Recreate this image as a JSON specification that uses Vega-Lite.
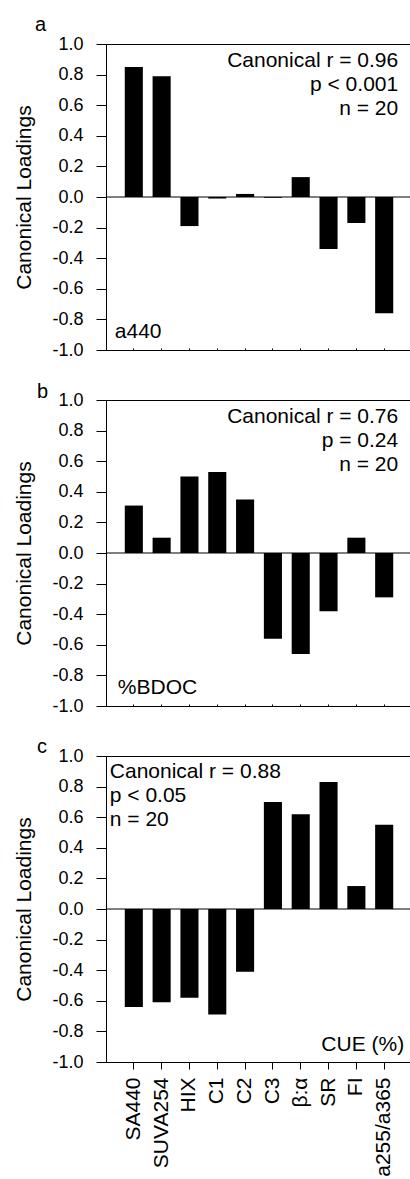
{
  "$schema": "https://vega.github.io/schema/vega-lite/v6.json",
  "autosize": {"type": "none"},
  "padding": {"left": 106, "top": 44, "right": 304, "bottom": 1135},
  "background": "white",
  "config": {
    "font": "Liberation Sans",
    "view": {"stroke": "#000", "strokeWidth": 1},
    "axis": {"domainColor": "#000", "tickColor": "#000", "labelColor": "#000", "titleColor": "#000", "labelFont": "Liberation Sans", "titleFont": "Liberation Sans", "grid": false, "labelOverlap": false},
    "axisQuantitative": {"labelOverlap": false, "tickCount": 11},
    "axisY": {"labelOverlap": false, "labelFontSize": 18, "titleFontSize": 21, "titleFontWeight": "normal", "tickSize": 10, "labelPadding": 13, "titlePadding": 17},
    "title": {"font": "Liberation Sans", "fontWeight": "normal", "fontSize": 20, "color": "#000", "anchor": "start", "frame": "group", "baseline": "alphabetic"}
  },
  "bounds": "flush",
  "spacing": 50,
  "datasets": {
    "loadings": [
      {"panel": "a", "variable": "SA440", "loading": 0.85},
      {"panel": "a", "variable": "SUVA254", "loading": 0.79},
      {"panel": "a", "variable": "HIX", "loading": -0.19},
      {"panel": "a", "variable": "C1", "loading": -0.01},
      {"panel": "a", "variable": "C2", "loading": 0.02},
      {"panel": "a", "variable": "C3", "loading": -0.005},
      {"panel": "a", "variable": "β:α", "loading": 0.13},
      {"panel": "a", "variable": "SR", "loading": -0.34},
      {"panel": "a", "variable": "FI", "loading": -0.17},
      {"panel": "a", "variable": "a255/a365", "loading": -0.76},
      {"panel": "b", "variable": "SA440", "loading": 0.31},
      {"panel": "b", "variable": "SUVA254", "loading": 0.10},
      {"panel": "b", "variable": "HIX", "loading": 0.50},
      {"panel": "b", "variable": "C1", "loading": 0.53},
      {"panel": "b", "variable": "C2", "loading": 0.35},
      {"panel": "b", "variable": "C3", "loading": -0.56},
      {"panel": "b", "variable": "β:α", "loading": -0.66},
      {"panel": "b", "variable": "SR", "loading": -0.38},
      {"panel": "b", "variable": "FI", "loading": 0.10},
      {"panel": "b", "variable": "a255/a365", "loading": -0.29},
      {"panel": "c", "variable": "SA440", "loading": -0.64},
      {"panel": "c", "variable": "SUVA254", "loading": -0.61},
      {"panel": "c", "variable": "HIX", "loading": -0.58},
      {"panel": "c", "variable": "C1", "loading": -0.69},
      {"panel": "c", "variable": "C2", "loading": -0.41},
      {"panel": "c", "variable": "C3", "loading": 0.70},
      {"panel": "c", "variable": "β:α", "loading": 0.62},
      {"panel": "c", "variable": "SR", "loading": 0.83},
      {"panel": "c", "variable": "FI", "loading": 0.15},
      {"panel": "c", "variable": "a255/a365", "loading": 0.55}
    ]
  },
  "vconcat": [
    {
      "width": 306, "height": 306,
      "title": {"text": "a", "dx": -71, "offset": 0},
      "layer": [
        {
          "data": {"name": "loadings"},
          "transform": [{"filter": "datum.panel === 'a'"}],
          "mark": {"type": "bar", "color": "#000"},
          "encoding": {
            "x": {"field": "variable", "type": "nominal", "sort": null,
              "scale": {"domain": ["SA440", "SUVA254", "HIX", "C1", "C2", "C3", "β:α", "SR", "FI", "a255/a365"], "paddingInner": 0.35, "paddingOuter": 0.675},
              "axis": {"title": null, "labels": false, "ticks": true, "tickSize": -2, "domain": true}},
            "y": {"field": "loading", "type": "quantitative", "scale": {"domain": [-1, 1], "nice": false, "zero": false},
              "axis": {"title": "Canonical Loadings", "values": [-1, -0.8, -0.6, -0.4, -0.2, 0, 0.2, 0.4, 0.6, 0.8, 1], "format": ".1f", "labelExpr": "replace(datum.label, '−', '-')", "labelOverlap": false}}
          }
        },
        {
          "data": {"values": [{"zero": 0}]},
          "mark": {"type": "rule", "color": "#000", "strokeWidth": 1},
          "encoding": {"y": {"field": "zero", "type": "quantitative"}}
        },
        {
          "data": {"values": [{"note": ["Canonical r = 0.96", "p < 0.001", "n = 20"]}]},
          "mark": {"type": "text", "align": "right", "baseline": "alphabetic", "fontSize": 21, "lineHeight": 24, "dx": 14, "color": "#000"},
          "encoding": {"x": {"datum": "a255/a365"}, "y": {"datum": 0.85}, "text": {"field": "note"}}
        },
        {
          "data": {"values": [{"note": "a440"}]},
          "mark": {"type": "text", "align": "left", "baseline": "alphabetic", "fontSize": 21, "dx": -19, "color": "#000"},
          "encoding": {"x": {"datum": "SA440"}, "y": {"datum": -0.92}, "text": {"field": "note"}}
        }
      ]
    },
    {
      "width": 306, "height": 306,
      "title": {"text": "b", "dx": -69, "offset": 0, "dy": 11},
      "layer": [
        {
          "data": {"name": "loadings"},
          "transform": [{"filter": "datum.panel === 'b'"}],
          "mark": {"type": "bar", "color": "#000"},
          "encoding": {
            "x": {"field": "variable", "type": "nominal", "sort": null,
              "scale": {"domain": ["SA440", "SUVA254", "HIX", "C1", "C2", "C3", "β:α", "SR", "FI", "a255/a365"], "paddingInner": 0.35, "paddingOuter": 0.675},
              "axis": {"title": null, "labels": false, "ticks": true, "tickSize": -2, "domain": true}},
            "y": {"field": "loading", "type": "quantitative", "scale": {"domain": [-1, 1], "nice": false, "zero": false},
              "axis": {"title": "Canonical Loadings", "values": [-1, -0.8, -0.6, -0.4, -0.2, 0, 0.2, 0.4, 0.6, 0.8, 1], "format": ".1f", "labelExpr": "replace(datum.label, '−', '-')", "labelOverlap": false}}
          }
        },
        {
          "data": {"values": [{"zero": 0}]},
          "mark": {"type": "rule", "color": "#000", "strokeWidth": 1},
          "encoding": {"y": {"field": "zero", "type": "quantitative"}}
        },
        {
          "data": {"values": [{"note": ["Canonical r = 0.76", "p = 0.24", "n = 20"]}]},
          "mark": {"type": "text", "align": "right", "baseline": "alphabetic", "fontSize": 21, "lineHeight": 24, "dx": 14, "color": "#000"},
          "encoding": {"x": {"datum": "a255/a365"}, "y": {"datum": 0.85}, "text": {"field": "note"}}
        },
        {
          "data": {"values": [{"note": "%BDOC"}]},
          "mark": {"type": "text", "align": "left", "baseline": "alphabetic", "fontSize": 21, "dx": -16, "color": "#000"},
          "encoding": {"x": {"datum": "SA440"}, "y": {"datum": -0.92}, "text": {"field": "note"}}
        }
      ]
    },
    {
      "width": 306, "height": 306,
      "title": {"text": "c", "dx": -69, "offset": 0, "dy": 10},
      "layer": [
        {
          "data": {"name": "loadings"},
          "transform": [{"filter": "datum.panel === 'c'"}],
          "mark": {"type": "bar", "color": "#000"},
          "encoding": {
            "x": {"field": "variable", "type": "nominal", "sort": null,
              "scale": {"domain": ["SA440", "SUVA254", "HIX", "C1", "C2", "C3", "β:α", "SR", "FI", "a255/a365"], "paddingInner": 0.35, "paddingOuter": 0.675},
              "axis": {"title": null, "labelAngle": -90, "labelFontSize": 21, "tickSize": 7, "labelPadding": 8, "domain": true}},
            "y": {"field": "loading", "type": "quantitative", "scale": {"domain": [-1, 1], "nice": false, "zero": false},
              "axis": {"title": "Canonical Loadings", "values": [-1, -0.8, -0.6, -0.4, -0.2, 0, 0.2, 0.4, 0.6, 0.8, 1], "format": ".1f", "labelExpr": "replace(datum.label, '−', '-')", "labelOverlap": false}}
          }
        },
        {
          "data": {"values": [{"zero": 0}]},
          "mark": {"type": "rule", "color": "#000", "strokeWidth": 1},
          "encoding": {"y": {"field": "zero", "type": "quantitative"}}
        },
        {
          "data": {"values": [{"note": ["Canonical r = 0.88", "p < 0.05", "n = 20"]}]},
          "mark": {"type": "text", "align": "left", "baseline": "alphabetic", "fontSize": 21, "lineHeight": 24, "dx": -24, "color": "#000"},
          "encoding": {"x": {"datum": "SA440"}, "y": {"datum": 0.856}, "text": {"field": "note"}}
        },
        {
          "data": {"values": [{"note": "CUE (%)"}]},
          "mark": {"type": "text", "align": "right", "baseline": "alphabetic", "fontSize": 21, "dx": 20, "color": "#000"},
          "encoding": {"x": {"datum": "a255/a365"}, "y": {"datum": -0.93}, "text": {"field": "note"}}
        }
      ]
    }
  ]
}
